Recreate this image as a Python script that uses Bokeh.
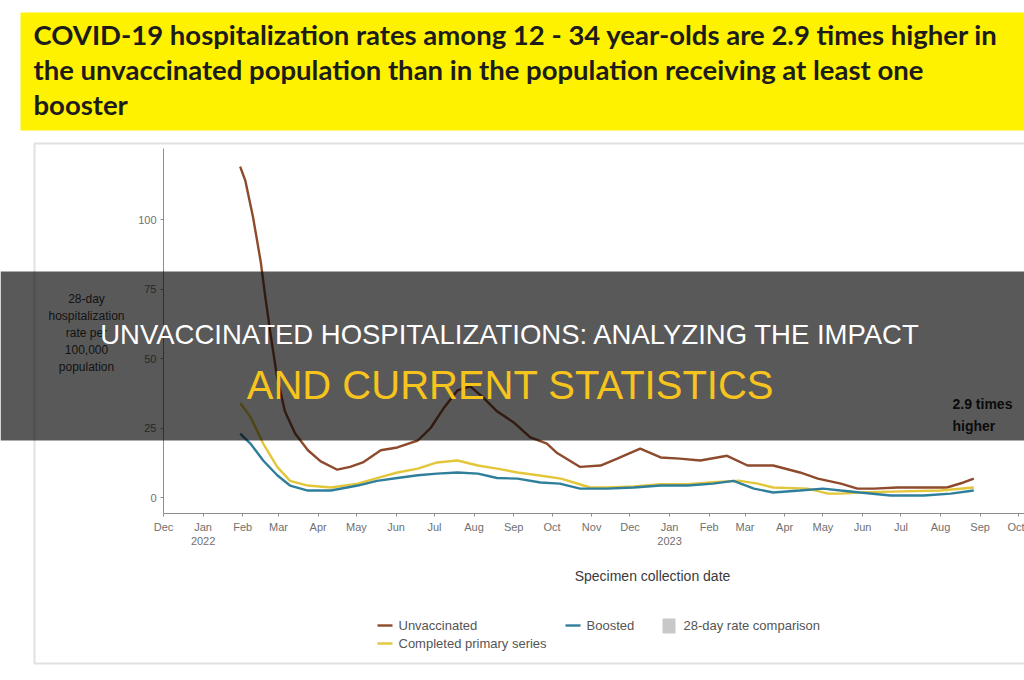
import pandas as pd
from bokeh.plotting import figure
from bokeh.models import Range1d, FixedTicker, Label, BoxAnnotation
from bokeh.embed import file_html
from bokeh.resources import INLINE

# ---------------- data ----------------
unvax_dates = ["2022-01-30", "2022-02-03", "2022-02-09", "2022-02-15", "2022-02-19", "2022-02-23",
               "2022-02-28", "2022-03-06", "2022-03-14", "2022-03-24", "2022-04-03", "2022-04-16",
               "2022-04-26", "2022-05-06", "2022-05-20", "2022-06-02", "2022-06-18", "2022-06-28",
               "2022-07-08", "2022-07-19", "2022-07-29", "2022-08-08", "2022-08-19", "2022-09-01",
               "2022-09-14", "2022-09-27", "2022-10-05", "2022-10-23", "2022-11-08", "2022-11-21",
               "2022-12-09", "2022-12-25", "2023-01-09", "2023-01-25", "2023-02-15", "2023-03-03",
               "2023-03-23", "2023-04-13", "2023-04-27", "2023-05-15", "2023-05-28", "2023-06-10",
               "2023-06-28", "2023-07-19", "2023-08-06", "2023-08-19", "2023-08-27"]
unvax_rate = [119, 114, 101, 85, 71, 58,
              43, 31, 23, 17, 13, 10,
              11, 12.6, 17, 18, 20.5, 25,
              32, 38.5, 40, 36, 31, 27,
              21.6, 19.4, 16, 11, 11.5, 14,
              17.6, 14.4, 14, 13.3, 15, 11.5,
              11.5, 9, 6.8, 5, 3.2, 3.2,
              3.6, 3.6, 3.6, 5.4, 6.8]

primary_dates = ["2022-01-30", "2022-02-07", "2022-02-17", "2022-02-28", "2022-03-10", "2022-03-24",
                 "2022-04-11", "2022-05-02", "2022-05-17", "2022-06-02", "2022-06-18", "2022-07-03",
                 "2022-07-19", "2022-08-04", "2022-08-19", "2022-09-04", "2022-09-20", "2022-10-08",
                 "2022-10-18", "2022-10-31", "2022-11-13", "2022-12-04", "2022-12-25", "2023-01-15",
                 "2023-02-04", "2023-02-25", "2023-03-11", "2023-03-23", "2023-04-19", "2023-05-05",
                 "2023-05-15", "2023-05-30", "2023-07-01", "2023-08-01", "2023-08-27"]
primary_rate = [34, 29, 19.4, 11, 6, 4.3,
                3.6, 5, 7, 9, 10.4, 12.6,
                13.3, 11.5, 10.4, 9, 8, 6.8,
                5.4, 3.6, 3.6, 4, 4.8, 4.8,
                5.5, 6, 5, 3.6, 3.2, 1.4,
                1.4, 1.8, 2.2, 2.5, 3.6]

boosted_dates = ["2022-01-30", "2022-02-07", "2022-02-17", "2022-02-28", "2022-03-10", "2022-03-24",
                 "2022-04-11", "2022-05-02", "2022-05-17", "2022-06-02", "2022-06-18", "2022-07-03",
                 "2022-07-19", "2022-08-04", "2022-08-19", "2022-09-04", "2022-09-22", "2022-10-07",
                 "2022-10-23", "2022-11-13", "2022-12-04", "2022-12-25", "2023-01-15", "2023-02-04",
                 "2023-02-20", "2023-03-08", "2023-03-23", "2023-04-13", "2023-05-01", "2023-05-15",
                 "2023-05-30", "2023-06-23", "2023-07-19", "2023-08-09", "2023-08-27"]
boosted_rate = [23, 19.4, 13.3, 8, 4.3, 2.5,
                2.5, 4.3, 6, 7, 8, 8.6,
                9, 8.6, 7, 6.8, 5.4, 5,
                3.2, 3.2, 3.6, 4.3, 4.3, 5,
                6, 3.2, 1.8, 2.5, 3.2, 2.5,
                1.8, 0.7, 0.7, 1.4, 2.5]

month_ticks = ["2021-12-01", "2022-01-01", "2022-02-01", "2022-03-01", "2022-04-01", "2022-05-01",
               "2022-06-01", "2022-07-01", "2022-08-01", "2022-09-01", "2022-10-01", "2022-11-01",
               "2022-12-01", "2023-01-01", "2023-02-01", "2023-03-01", "2023-04-01", "2023-05-01",
               "2023-06-01", "2023-07-01", "2023-08-01", "2023-09-01", "2023-10-01"]
month_labels = ["Dec", "Jan\n2022", "Feb", "Mar", "Apr", "May", "Jun", "Jul", "Aug", "Sep", "Oct",
                "Nov", "Dec", "Jan\n2023", "Feb", "Mar", "Apr", "May", "Jun", "Jul", "Aug", "Sep", "Oct"]
y_ticks = [0, 25, 50, 75, 100]

series_names = ["Unvaccinated", "Completed primary series", "Boosted"]
series_colors = ["#8e4a2c", "#e3c63a", "#2f7f9c"]

banner_lines = ["COVID-19 hospitalization rates among 12 - 34 year-olds are 2.9 times higher in",
                "the unvaccinated population than in the population receiving at least one",
                "booster"]
ylabel_lines = ["28-day", "hospitalization", "rate per", "100,000", "population"]

# ---------------- geometry: plot area inside the 1024x680 canvas ----------------
W, H = 1024, 680
X0 = pd.Timestamp("2021-12-01")
X1 = pd.Timestamp("2023-10-01")
PX0, PX1 = 163, 1018          # canvas x of X0 and X1
PY_ZERO, PY_100 = 497, 219     # canvas y of rate 0 and rate 100
PY_AXIS, PY_TOP = 513, 148     # canvas y of x-axis line and top of y-axis line

day_px = (PX1 - PX0) / (X1 - X0).days
x_start = X0 - pd.Timedelta(days=PX0 / day_px)
x_end = X0 + pd.Timedelta(days=(W - PX0) / day_px)
v_px = (PY_ZERO - PY_100) / 100.0
y_bottom = (PY_ZERO - H) / v_px
y_top = PY_ZERO / v_px
y_axis_val = (PY_ZERO - PY_AXIS) / v_px
y_top_val = (PY_ZERO - PY_TOP) / v_px

p = figure(width=W, height=H, x_axis_type="datetime",
           x_range=Range1d(x_start, x_end), y_range=Range1d(y_bottom, y_top),
           output_backend="svg", toolbar_location=None,
           min_border=0, min_border_left=0, min_border_right=0, min_border_top=0, min_border_bottom=0)
p.outline_line_color = None
p.grid.visible = False
p.background_fill_color = "white"
p.border_fill_color = "white"

# pixel-space ranges for decorations (canvas pixel grid, y down)
p.extra_x_ranges = {"px": Range1d(0, W)}
p.extra_y_ranges = {"py": Range1d(H, 0)}

ms = lambda t: pd.Timestamp(t).value / 1e6
tick_ms = [ms(t) for t in month_ticks]
xa = p.xaxis[0]
xa.ticker = FixedTicker(ticks=tick_ms)
xa.major_label_overrides = {m: lab for m, lab in zip(tick_ms, month_labels)}
xa.fixed_location = y_axis_val
xa.bounds = (ms(X0), ms(x_end))
ya = p.yaxis[0]
ya.ticker = FixedTicker(ticks=y_ticks)
ya.fixed_location = ms(X0)
ya.bounds = (y_axis_val, y_top_val)
for ax in (xa, ya):
    ax.minor_tick_line_color = None
    ax.axis_line_color = "#8c8c8c"
    ax.major_tick_line_color = "#8c8c8c"
    ax.major_tick_out = 3
    ax.major_tick_in = 0
    ax.major_label_text_font = "Liberation Sans"
    ax.major_label_text_font_size = "11px"
    ax.major_label_text_color = "#707070"
    ax.major_label_standoff = 4

for d, v, c in zip([unvax_dates, primary_dates, boosted_dates],
                   [unvax_rate, primary_rate, boosted_rate], series_colors):
    p.line(pd.to_datetime(d), v, line_color=c, line_width=2.4)


def box(l, r, t, b, level="underlay", **kw):
    p.add_layout(BoxAnnotation(left=l, right=r, top=t, bottom=b, x_range_name="px", y_range_name="py",
                               level=level, **kw))


def label(x, y, text, size, color, font="Liberation Sans", style="normal", align="left", level="annotation"):
    p.add_layout(Label(x=x, y=y, x_range_name="px", y_range_name="py", text=text,
                       text_font=font, text_font_size=size, text_color=color, text_font_style=style,
                       text_align=align, text_baseline="middle", level=level))


# yellow banner
box(20, W + 10, 12, 130, fill_color="#fff200", fill_alpha=1, line_color=None)
for i, t in enumerate(banner_lines):
    label(33, 34 + i * 35, t, "27.5px", "#1c1c1c", font="Lato", style="bold")

# chart frame box
box(34, W + 10, 143, 663, fill_color=None, fill_alpha=0, line_color="#9a9a9a", line_width=2)

# y-axis title (horizontal)
for i, t in enumerate(ylabel_lines):
    label(86, 298 + i * 17, t, "12px", "#3a3a3a", align="center")

# x-axis title
label(652, 575, "Specimen collection date", "14px", "#3a3a3a", align="center")

# annotation at right
label(952, 403, "2.9 times", "14px", "#222222", style="bold")
label(952, 425, "higher", "14px", "#222222", style="bold")

# legend
for x0, y0, k in [(377, 625, 0), (377, 643, 1), (565, 625, 2)]:
    box(x0, x0 + 15, y0 - 1.2, y0 + 1.2, fill_color=series_colors[k], fill_alpha=1, line_color=None)
    label(x0 + 21, y0, series_names[k], "13px", "#555555")
box(662, 675, 618, 633, fill_color="#c8c8c8", fill_alpha=1, line_color=None)
label(683, 625, "28-day rate comparison", "13px", "#555555")

# dark overlay band with headline
box(0, W, 271, 440, level="overlay", fill_color="black", fill_alpha=0.65, line_color=None)
label(510, 334, "UNVACCINATED HOSPITALIZATIONS: ANALYZING THE IMPACT", "27.5px", "#ffffff",
      align="center", level="overlay")
label(510, 384, "AND CURRENT STATISTICS", "40px", "#f6c41c", align="center", level="overlay")

open("out.html", "w").write(file_html(p, INLINE))
